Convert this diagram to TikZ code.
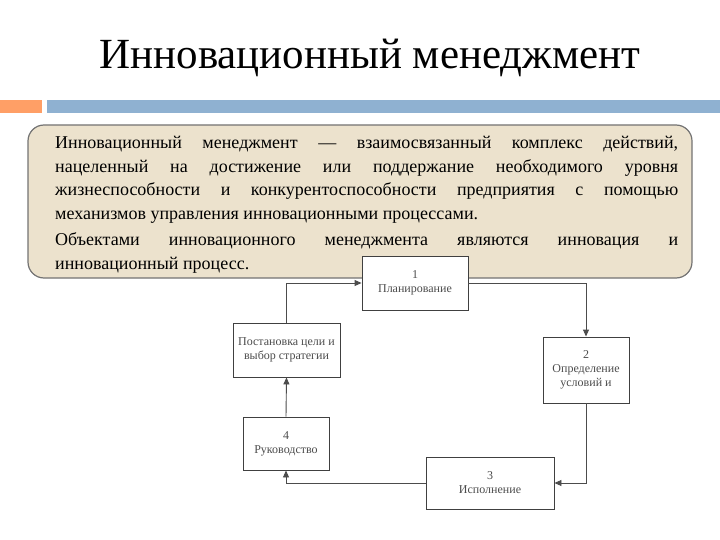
\documentclass[tikz,border=0pt]{standalone}
\usepackage{fontspec}
\setmainfont{Liberation Serif}
\usetikzlibrary{arrows.meta}
\begin{document}
\begin{tikzpicture}[x=1pt,y=-1pt,
  blk/.style={draw=black!75,line width=0.9pt,fill=white,align=center,font=\fontsize{12}{14}\selectfont,text=black!70,inner sep=1pt},
  conn/.style={draw=black!70,line width=0.9pt,-{Triangle[length=7pt,width=6pt]}}]
\useasboundingbox (0,0) rectangle (720,540);
\node (title) at (370,58) {\fontsize{43}{48}\selectfont Инновационный менеджмент};
\fill[fill=orange!75!red!60] (0,100) rectangle (42,113);
\fill[fill={rgb,255:red,143;green,177;blue,209}] (47,100) rectangle (720,113);
\draw[fill={rgb,255:red,236;green,226;blue,205},draw=black!55,line width=1.2pt,rounded corners=16pt] (28,125) rectangle (692,278);
\fill[white] (198,279) rectangle (640,515);
\node[blk,minimum width=106pt,minimum height=54pt] (p1) at (415,283) {1\\Планирование};
\node[blk,minimum width=107pt,minimum height=54pt] (p0) at (286.5,350) {Постановка цели и\\выбор стратегии};
\node[blk,minimum width=86pt,minimum height=66pt] (p2) at (586,370) {2\\Определение\\условий и};
\node[blk,minimum width=86pt,minimum height=53pt] (p4) at (286,443.5) {4\\Руководство};
\node[blk,minimum width=128pt,minimum height=52pt] (p3) at (490,483) {3\\Исполнение};
\draw[conn] (p0.north) |- (p1.west);
\draw[conn] (p1.east) -| (p2.north);
\draw[conn] (p2.south) |- (p3.east);
\draw[conn] (p3.west) -| (p4.south);
\draw[conn] (p4.north) -- (p0.south);
\node[anchor=north west,text width=623pt,align=justify,inner sep=0pt,font=\fontsize{18}{23.5}\selectfont] (txt) at (55,136) {Инновационный менеджмент — взаимосвязанный комплекс действий, нацеленный на достижение или поддержание необходимого уровня жизнеспособности и конкурентоспособности предприятия с помощью механизмов управления инновационными процессами.\par\vspace{3pt}Объектами инновационного менеджмента являются инновация и\linebreak инновационный процесс.};
\end{tikzpicture}
\end{document}
